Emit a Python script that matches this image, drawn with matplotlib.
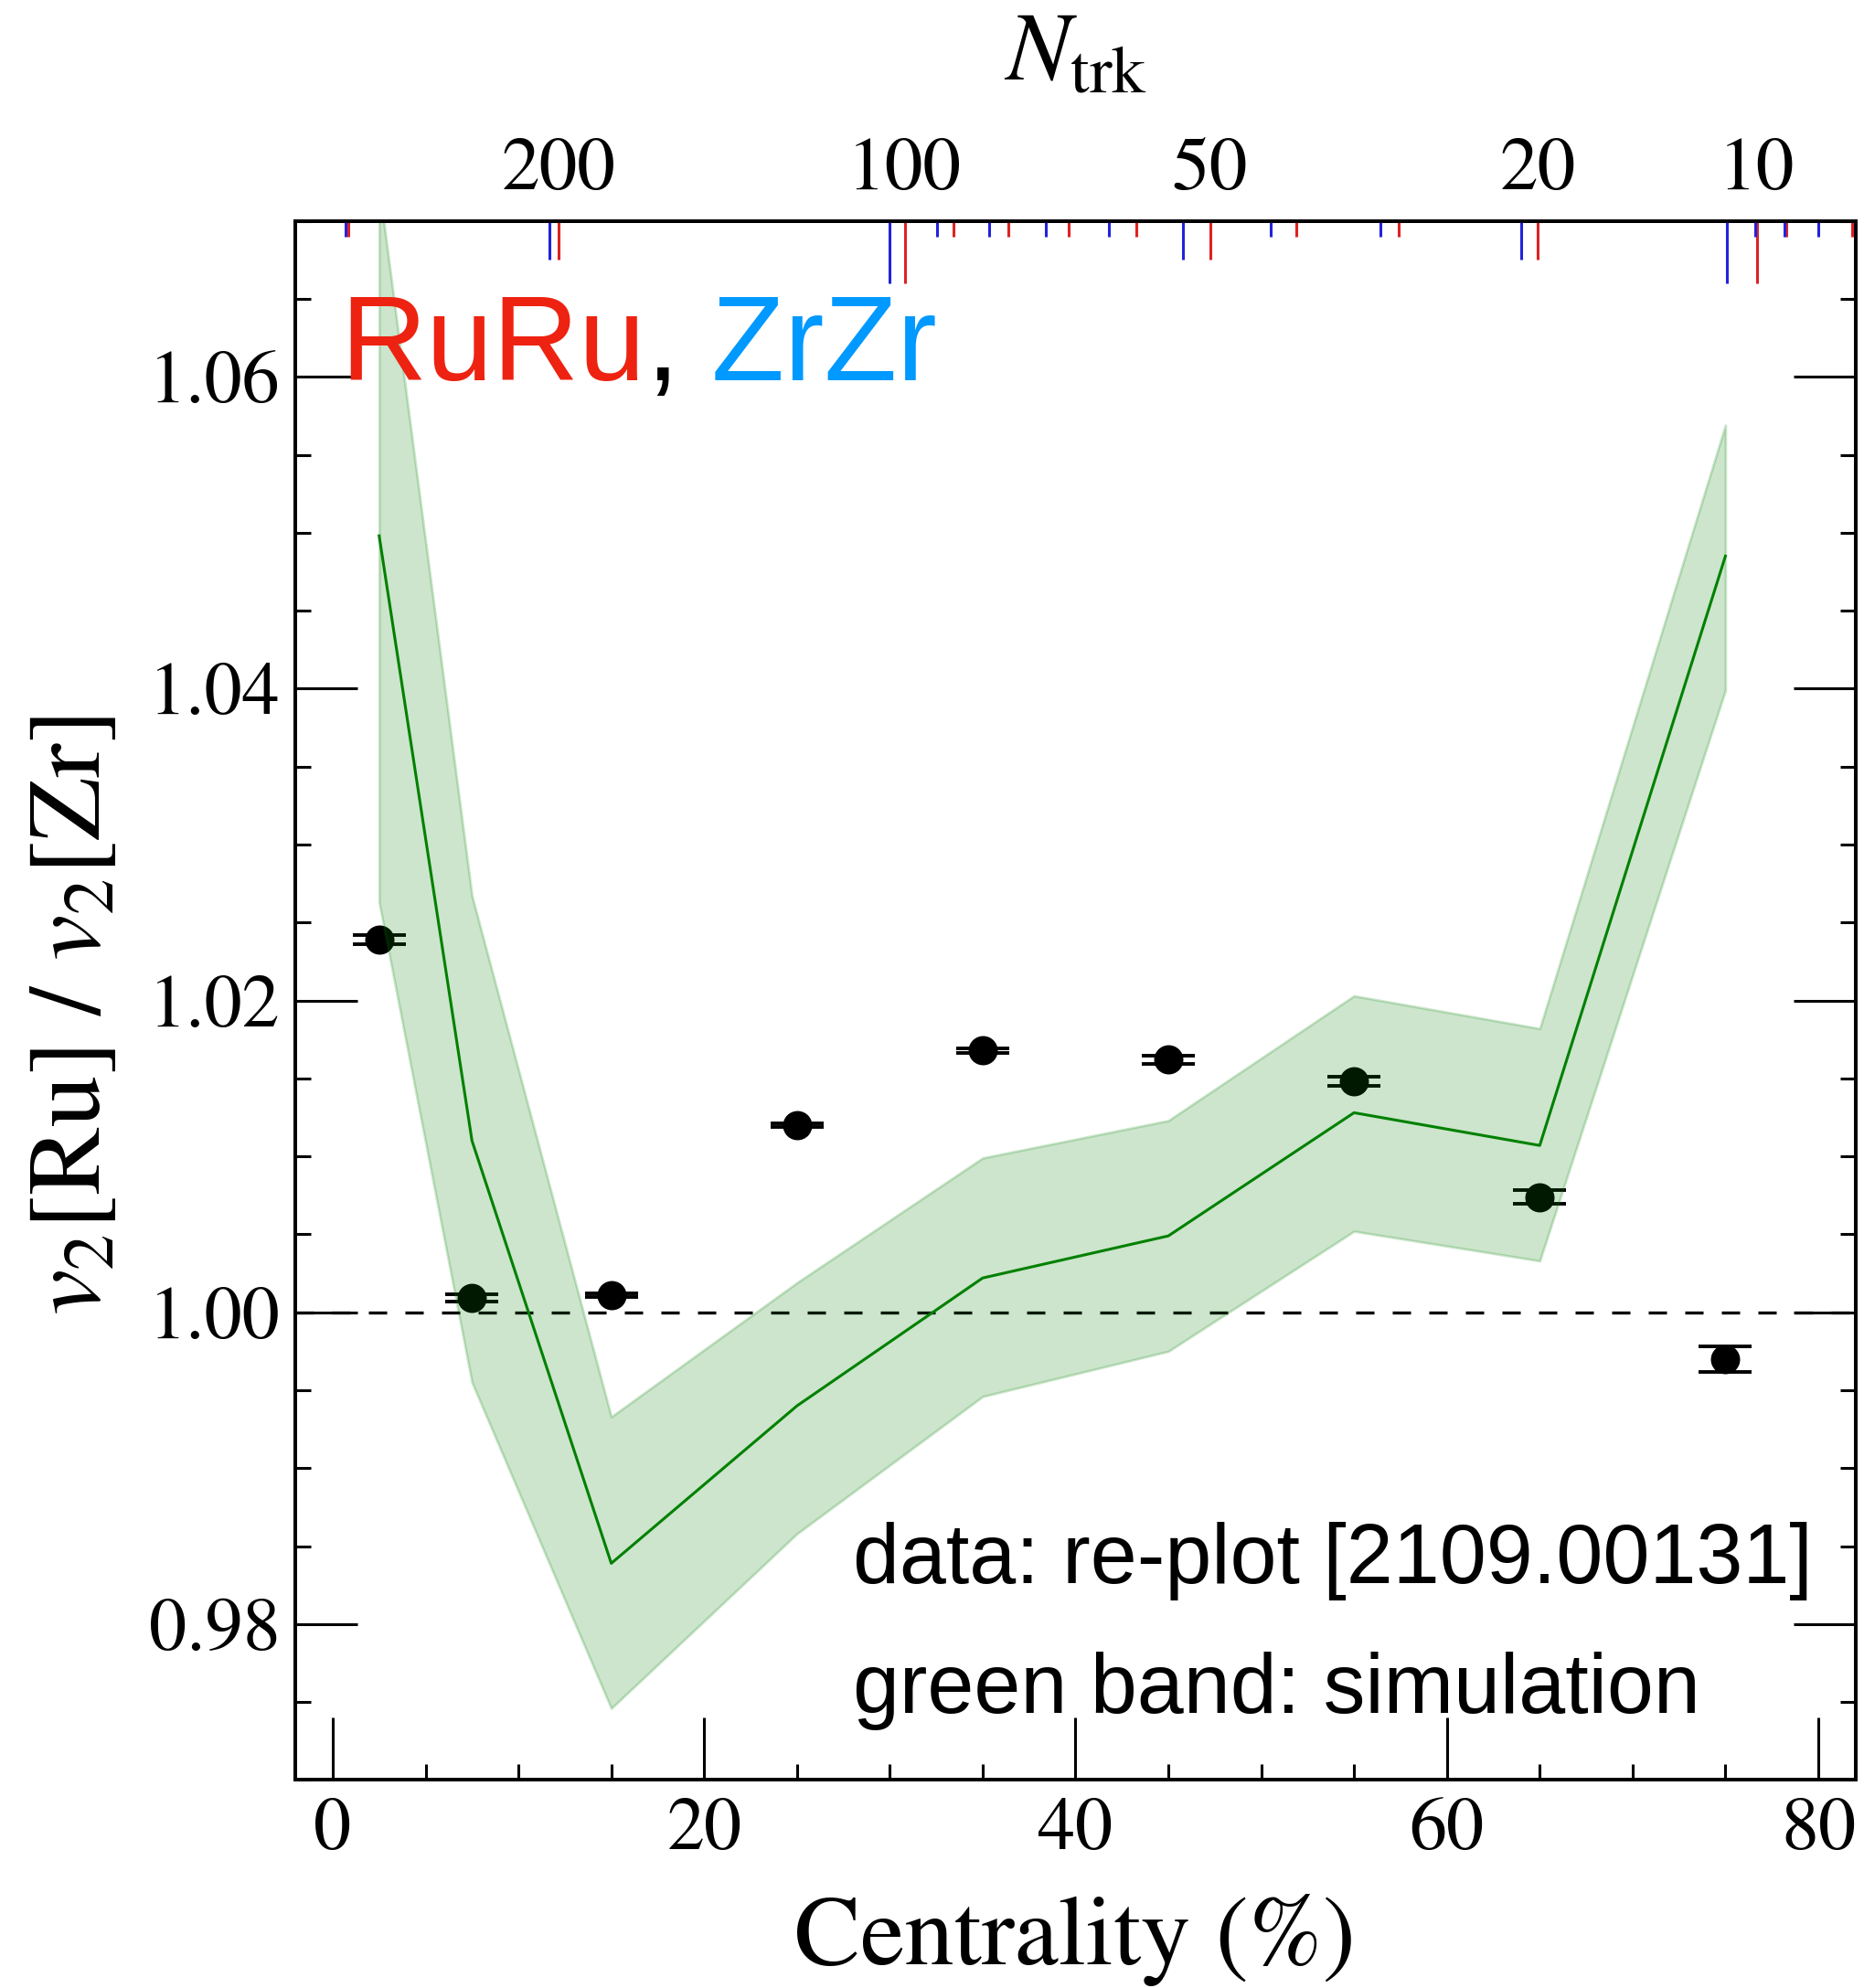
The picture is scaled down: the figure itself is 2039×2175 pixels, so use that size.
import matplotlib
matplotlib.use("Agg")
import matplotlib.pyplot as plt
from matplotlib.ticker import MultipleLocator, FormatStrFormatter

# --- data ---
# measured ratio v2[Ru]/v2[Zr] per centrality bin
cent = [2.5, 7.5, 15, 25, 35, 45, 55, 65, 75]
ratio = [1.0239, 1.0009, 1.0011, 1.0120, 1.0168, 1.0162, 1.0148, 1.0074, 0.9970]
ratio_err = [0.0003, 0.00023, 0.0001, 0.0001, 0.00015, 0.00025, 0.00028, 0.00046, 0.0008]

# simulation (green band)
sim_mid = [1.0498, 1.0110, 0.9839, 0.9940, 1.0022, 1.0049, 1.0128, 1.0107, 1.0485]
sim_lo = [1.0263, 0.9955, 0.9746, 0.9858, 0.9946, 0.9975, 1.0052, 1.0033, 1.0399]
sim_hi = [1.0722, 1.0267, 0.9933, 1.0019, 1.0099, 1.0123, 1.0203, 1.0182, 1.0569]

# Ntrk -> centrality mapping for the top axis
ntrk_ru = [300, 200, 100, 90, 80, 70, 60, 50, 40, 30, 20, 10, 9, 8]
cent_ru = [0.82, 12.18, 30.80, 33.43, 36.37, 39.65, 43.26, 47.24, 51.88, 57.40, 64.89, 76.68, 78.30, 81.80]
ntrk_zr = [300, 200, 100, 90, 80, 70, 60, 50, 40, 30, 20, 10, 9, 8, 7, 6]
cent_zr = [0.71, 11.69, 29.99, 32.55, 35.34, 38.40, 41.78, 45.77, 50.52, 56.42, 64.01, 75.09, 76.62, 78.20, 80.00, 81.95]
ntrk_labelled = [200, 100, 50, 20, 10]

# --- style ---
plt.rcParams['font.family'] = 'STIXGeneral'
plt.rcParams['mathtext.fontset'] = 'stix'

fig = plt.figure(figsize=(10.2, 10.875), dpi=200)
ax = fig.add_axes([0.1585, 0.1046, 0.8364, 0.7843])

# data points
ax.errorbar(cent, ratio, yerr=ratio_err, fmt='o', color='black', ms=10.5,
            capsize=10.5, capthick=1.4, elinewidth=1.4, zorder=2)

# simulation band
ax.fill_between(cent, sim_lo, sim_hi, color='green', alpha=0.2, zorder=3)
ax.plot(cent, sim_mid, color='green', lw=1.1, zorder=4)

ax.axhline(1.0, color='black', lw=1.2, ls=(0, (6, 6)), zorder=1)

ax.set_xlim(-2, 82)
ax.set_ylim(0.97, 1.07)

ax.xaxis.set_major_locator(MultipleLocator(20))
ax.xaxis.set_minor_locator(MultipleLocator(5))
ax.yaxis.set_major_locator(MultipleLocator(0.02))
ax.yaxis.set_minor_locator(MultipleLocator(0.005))
ax.yaxis.set_major_formatter(FormatStrFormatter('%.2f'))

for s in ax.spines.values():
    s.set_linewidth(1.3)

ax.tick_params(which='both', direction='in', top=False, right=True, width=1.1)
ax.tick_params(which='major', length=24.5)
ax.tick_params(which='minor', length=6.1)
ax.tick_params(axis='x', which='major', labelsize=29.5, pad=7)
ax.tick_params(axis='y', which='major', labelsize=29.5, pad=6)

ax.set_xlabel('Centrality (%)', fontsize=39, labelpad=11)
ax.set_ylabel(r'$v_2$[Ru] / $v_2$[Zr]', fontsize=40.5)
ax.yaxis.set_label_coords(-0.111, 0.49)


# --- top Ntrk axis, one twin per species ---
def tick_len(n):
    if n in (100, 10):
        return 24.5
    if n in (200, 50, 20):
        return 15
    return 6.1


def ntrk_axis(pos, ntrk, color, labels):
    tw = ax.twiny()
    tw.set_xlim(ax.get_xlim())
    tw.set_xticks(pos)
    if labels:
        tw.set_xticklabels([str(n) if n in ntrk_labelled else '' for n in ntrk])
    else:
        tw.set_xticklabels([])
    tw.tick_params(axis='x', which='major', direction='in', color=color,
                   width=1.1, labelsize=30, pad=6, labelcolor='black')
    tw.tick_params(axis='x', which='minor', top=False, bottom=False)
    for t, n in zip(tw.xaxis.get_major_ticks(), ntrk):
        t.tick2line.set_markersize(tick_len(n))
    for s in tw.spines.values():
        s.set_linewidth(1.3)
    return tw


top_ru = ntrk_axis(cent_ru, ntrk_ru, '#dd2222', True)
top_zr = ntrk_axis(cent_zr, ntrk_zr, '#2222dd', False)
top_ru.set_xlabel(r'$N_{\rm trk}$', fontsize=38, labelpad=23)

# --- annotations ---
t1 = ax.text(0.4, 1.0598, 'RuRu', color='#ee2211', fontsize=47,
             family='Liberation Sans', ha='left', va='baseline', zorder=6)
t2 = ax.annotate(',', xy=(1, 0), xycoords=t1, color='black', fontsize=47,
                 family='Liberation Sans', ha='left', va='bottom', zorder=6)
t3 = ax.annotate(' ZrZr', xy=(1, 0), xycoords=t2, color='#0099ff', fontsize=47,
                 family='Liberation Sans', ha='left', va='bottom', zorder=6)

ax.text(28.0, 0.98261, 'data: re-plot [2109.00131]', fontsize=33,
        family='Liberation Sans', ha='left', va='baseline')
ax.text(28.0, 0.97432, 'green band: simulation', fontsize=33,
        family='Liberation Sans', ha='left', va='baseline')

fig.savefig('out.png', dpi=200)
